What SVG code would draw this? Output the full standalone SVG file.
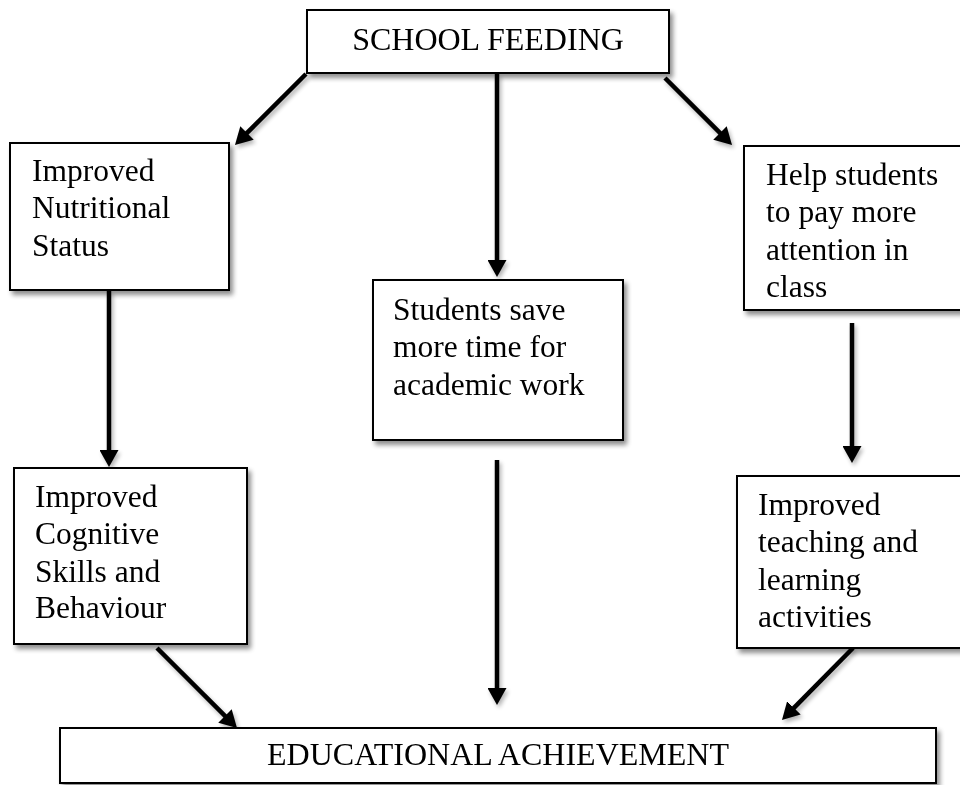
<svg xmlns="http://www.w3.org/2000/svg" width="960" height="785" viewBox="0 0 960 785">
  <style>
    .box { fill: #ffffff; stroke: #000000; stroke-width: 2; }
    .label { font-family: "Liberation Serif", "Times New Roman", serif; font-size: 31.5px; fill: #000000; }
    .title { font-family: "Liberation Serif", "Times New Roman", serif; font-size: 32px; fill: #000000; text-anchor: middle; }
    .link { stroke: #000000; stroke-width: 4.5; fill: none; marker-end: url(#head); }
  </style>
  <defs>
    <filter id="shadow" x="-10%" y="-10%" width="130%" height="140%">
      <feGaussianBlur in="SourceAlpha" stdDeviation="2.5"/>
      <feOffset dx="3" dy="4" result="blur"/>
      <feComponentTransfer><feFuncA type="linear" slope="0.45"/></feComponentTransfer>
      <feMerge><feMergeNode/><feMergeNode in="SourceGraphic"/></feMerge>
    </filter>
    <filter id="lineShadow" x="-20%" y="-20%" width="140%" height="140%">
      <feGaussianBlur in="SourceAlpha" stdDeviation="2"/>
      <feOffset dx="2" dy="3"/>
      <feComponentTransfer><feFuncA type="linear" slope="0.3"/></feComponentTransfer>
      <feMerge><feMergeNode/><feMergeNode in="SourceGraphic"/></feMerge>
    </filter>
    <marker id="head" markerUnits="userSpaceOnUse" viewBox="0 0 17 19" refX="1" refY="9.5" markerWidth="17" markerHeight="19" orient="auto">
      <path d="M0,0 L17,9.5 L0,19 z" fill="#000000"/>
    </marker>
  </defs>

  <rect width="960" height="785" fill="#ffffff"/>

  <!-- connectors -->
  <g id="connectors" filter="url(#lineShadow)">
    <line class="link" x1="306" y1="74" x2="246.3" y2="133.7"/>
    <line class="link" x1="497" y1="74" x2="497" y2="261"/>
    <line class="link" x1="665" y1="78" x2="720.7" y2="133.7"/>
    <line class="link" x1="109" y1="291" x2="109" y2="451"/>
    <line class="link" x1="497" y1="460" x2="497" y2="689"/>
    <line class="link" x1="852" y1="323" x2="852" y2="447"/>
    <line class="link" x1="157" y1="648" x2="225.7" y2="716.7"/>
    <line class="link" x1="853" y1="648" x2="793.2" y2="708.6"/>
  </g>

  <g id="school-feeding" filter="url(#shadow)">
    <rect class="box" x="307" y="10" width="362" height="63"/>
    <text class="title" x="488" y="50">SCHOOL FEEDING</text>
  </g>

  <g id="nutritional-status" filter="url(#shadow)">
    <rect class="box" x="10" y="143" width="219" height="147"/>
    <text class="label" x="32" y="181">Improved</text>
    <text class="label" x="32" y="218">Nutritional</text>
    <text class="label" x="32" y="256">Status</text>
  </g>

  <g id="save-time" filter="url(#shadow)">
    <rect class="box" x="373" y="280" width="250" height="160"/>
    <text class="label" x="393" y="320">Students save</text>
    <text class="label" x="393" y="357">more time for</text>
    <text class="label" x="393" y="395">academic work</text>
  </g>

  <g id="attention" filter="url(#shadow)">
    <rect class="box" x="744" y="146" width="222" height="164"/>
    <text class="label" x="766" y="185">Help students</text>
    <text class="label" x="766" y="222">to pay more</text>
    <text class="label" x="766" y="260">attention in</text>
    <text class="label" x="766" y="297">class</text>
  </g>

  <g id="cognitive-skills" filter="url(#shadow)">
    <rect class="box" x="14" y="468" width="233" height="176"/>
    <text class="label" x="35" y="507">Improved</text>
    <text class="label" x="35" y="544">Cognitive</text>
    <text class="label" x="35" y="582">Skills and</text>
    <text class="label" x="35" y="618">Behaviour</text>
  </g>

  <g id="teaching-learning" filter="url(#shadow)">
    <rect class="box" x="737" y="476" width="229" height="172"/>
    <text class="label" x="758" y="515">Improved</text>
    <text class="label" x="758" y="552">teaching and</text>
    <text class="label" x="758" y="590">learning</text>
    <text class="label" x="758" y="627">activities</text>
  </g>

  <g id="educational-achievement" filter="url(#shadow)">
    <rect class="box" x="60" y="728" width="876" height="55"/>
    <text class="title" x="498" y="765">EDUCATIONAL ACHIEVEMENT</text>
  </g>
</svg>
